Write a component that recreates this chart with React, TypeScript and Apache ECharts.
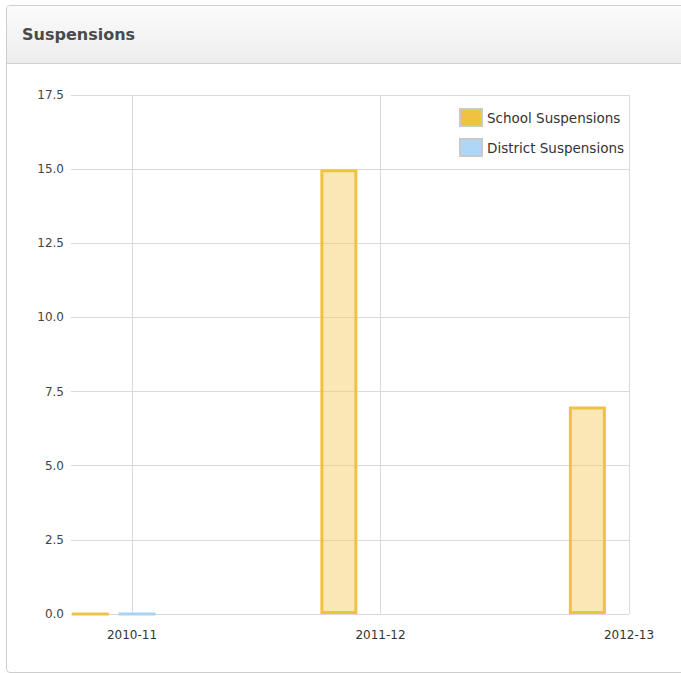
import React, { useEffect, useRef } from "react";
import * as echarts from "echarts";

const categories = ["2010-11", "2011-12", "2012-13"];
const schoolSuspensions: (number | null)[] = [0, 15, 7];
const districtSuspensions: (number | null)[] = [0, null, null];
const spacer: (number | null)[] = [null, null, null];
const yMin = 0;
const yMax = 17.5;
const yInterval = 2.5;

const FONT = "DejaVu Sans";

export default function App() {
  const ref = useRef<HTMLDivElement>(null);
  useEffect(() => {
    document.body.style.margin = "0";
    const chart = echarts.init(ref.current!, null, { renderer: "svg" });
    chart.setOption({
      animation: false,
      grid: [
        { left: 71, right: 52, top: 95, bottom: 59 },
        { left: 132, right: 52, top: 95, bottom: 59 },
      ],
      xAxis: [
        { gridIndex: 0, type: "category", data: categories, show: false },
        {
          gridIndex: 1,
          type: "category",
          data: categories,
          boundaryGap: false,
          axisLine: { show: false },
          axisTick: { show: false },
          axisLabel: { color: "#333", fontFamily: FONT, fontSize: 12, margin: 15 },
          splitLine: { show: true, lineStyle: { color: "#dadada", width: 1 } },
        },
      ],
      yAxis: [
        {
          gridIndex: 0,
          type: "value",
          min: yMin,
          max: yMax,
          interval: yInterval,
          axisLine: { show: false },
          axisTick: { show: false },
          axisLabel: {
            color: "#444",
            fontFamily: FONT,
            fontSize: 12,
            margin: 7,
            formatter: (v: number) => v.toFixed(1),
          },
          splitLine: { show: true, lineStyle: { color: "#dadada", width: 1 } },
        },
        { gridIndex: 1, type: "value", min: yMin, max: yMax, interval: yInterval, show: false },
      ],
      legend: {
        orient: "vertical",
        left: 459,
        top: 108,
        padding: 0,
        itemWidth: 22,
        itemHeight: 17,
        itemGap: 11,
        icon: "rect",
        textStyle: { fontFamily: FONT, fontSize: 13.5, color: "#333" },
        data: [
          {
            name: "School Suspensions",
            itemStyle: { color: "#efc33f", borderColor: "#c9c9c9", borderWidth: 2 },
          },
          {
            name: "District Suspensions",
            itemStyle: { color: "#aed6f6", borderColor: "#c9c9c9", borderWidth: 2 },
          },
        ],
      },
      series: [
        {
          name: "School Suspensions",
          type: "bar",
          xAxisIndex: 1,
          yAxisIndex: 1,
          data: schoolSuspensions,
          barWidth: 37,
          barGap: "26%",
          clip: false,
          itemStyle: {
            color: "rgba(241,205,90,0.45)",
            borderColor: "#efc340",
            borderWidth: 3,
          },
        },
        {
          name: "District Suspensions",
          type: "bar",
          xAxisIndex: 1,
          yAxisIndex: 1,
          data: districtSuspensions,
          barWidth: 37,
          barGap: "26%",
          clip: false,
          itemStyle: {
            color: "#d4e9fa",
            borderColor: "#a9d2f3",
            borderWidth: 3,
          },
        },
        {
          name: "spacer",
          type: "bar",
          xAxisIndex: 1,
          yAxisIndex: 1,
          data: spacer,
          barWidth: 27,
          barGap: "26%",
          silent: true,
          itemStyle: { color: "rgba(0,0,0,0)", borderWidth: 0 },
        },
      ],
    });
    return () => chart.dispose();
  }, []);

  return (
    <div
      style={{
        position: "fixed",
        left: 0,
        top: 0,
        width: 681,
        height: 673,
        overflow: "hidden",
        background: "#fff",
      }}
    >
      <div
        style={{
          position: "absolute",
          left: 6,
          top: 5,
          width: 720,
          height: 666,
          border: "1px solid #cdcdcd",
          borderRadius: 4,
          overflow: "hidden",
          background: "#fff",
        }}
      >
        <div
          style={{
            height: 57,
            borderBottom: "1px solid #d2d2d2",
            background: "linear-gradient(#fbfbfb, #ededed)",
            position: "relative",
          }}
        >
          <span
            style={{
              position: "absolute",
              left: 15,
              top: 0,
              lineHeight: "58px",
              fontFamily: FONT,
              fontWeight: "bold",
              fontSize: 16,
              color: "#4a4a4a",
            }}
          >
            Suspensions
          </span>
        </div>
      </div>
      <div
        ref={ref}
        style={{ position: "absolute", left: 0, top: 0, width: 681, height: 673 }}
      />
    </div>
  );
}
